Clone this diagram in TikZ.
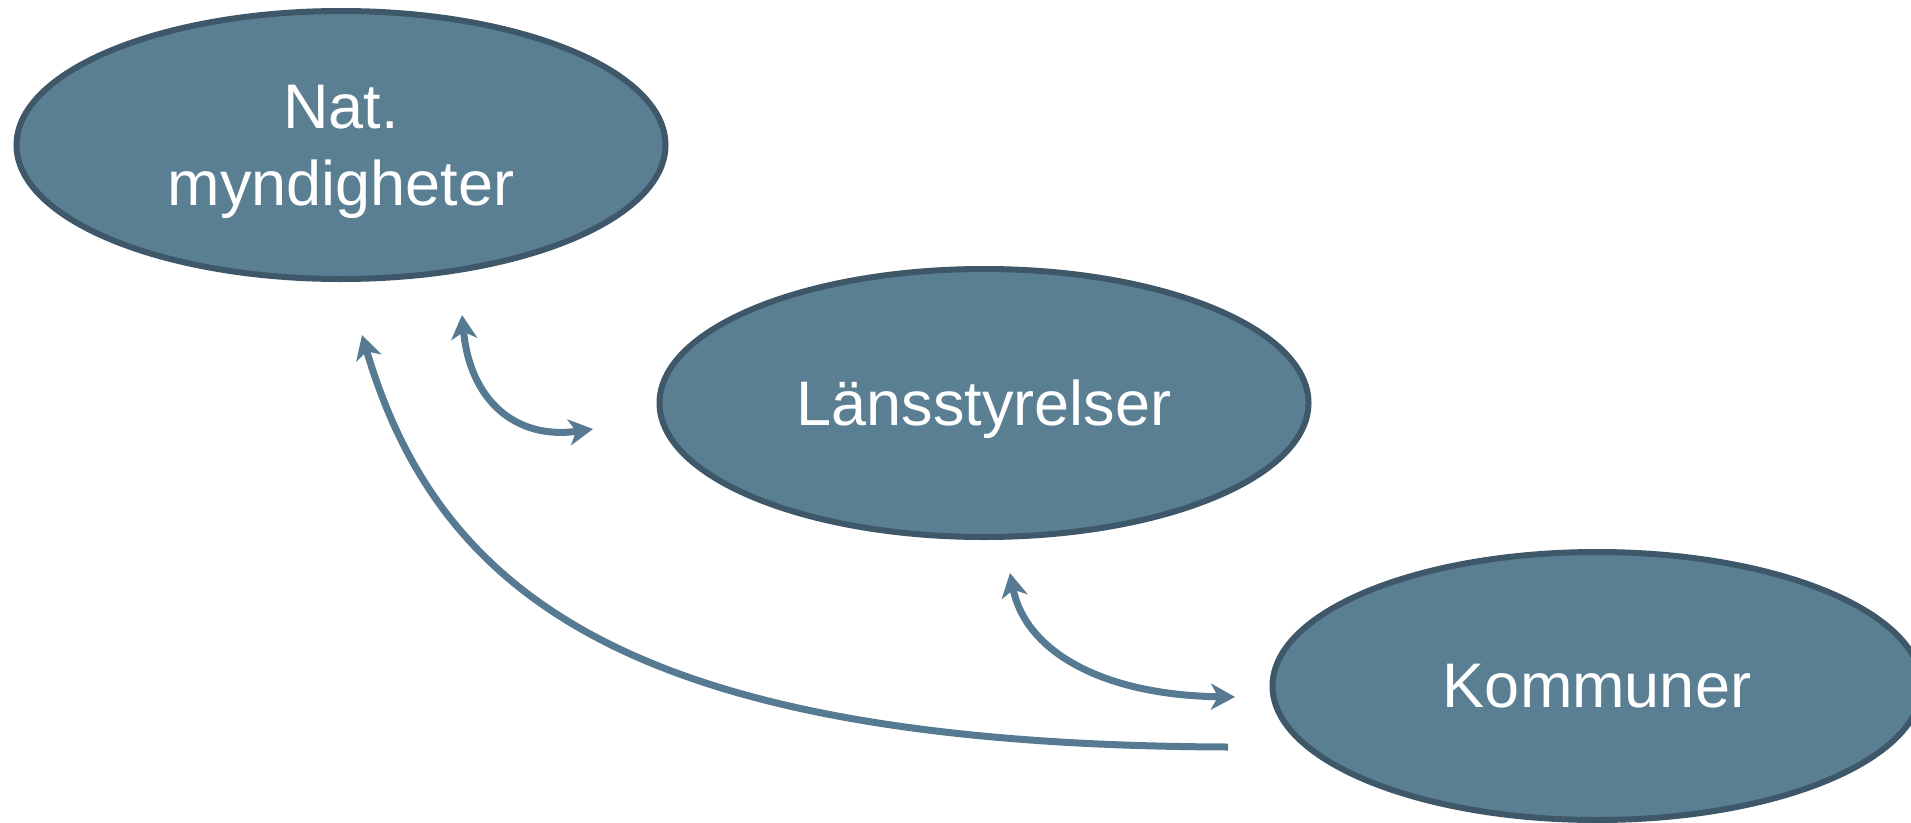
\documentclass[tikz,border=0pt]{standalone}
\usepackage{fontspec}
\setmainfont{Liberation Sans}
\usetikzlibrary{shapes.geometric,arrows.meta}
\definecolor{orgfill}{HTML}{5A7F93}
\definecolor{orgline}{HTML}{3E5869}
\definecolor{linkblue}{HTML}{557A91}
\tikzset{
  org/.style={ellipse,draw=orgline,line width=6pt,fill=orgfill,
    minimum width=649pt,minimum height=268pt,inner sep=0pt,
    text=white,font=\fontsize{63}{77}\selectfont,align=center,text depth=0pt},
  link/.style={draw=linkblue,line width=7pt}
}
\begin{document}
\begin{tikzpicture}[x=1pt,y=-1pt,>={Stealth[length=24pt,width=26pt,inset=7pt]}]
    \useasboundingbox (0,0) rectangle (1911,822);
    \node[org] (nat) at (341,145) {Nat.\\myndigheter};
    \node[org] (lans) at (984,403) {Länsstyrelser};
    \node[org] (kom) at (1597,686) {Kommuner};
    \coordinate (natA) at (462,315);
    \coordinate (lansA) at (593,429);
    \coordinate (lansB) at (1010,573);
    \coordinate (komA) at (1235,697);
    \coordinate (komB) at (1228,747);
    \coordinate (natB) at (362,335);
    \draw[link,<->](natA) .. controls (470,400) and (515,440) .. (lansA);
    \draw[link,<->](lansB) .. controls (1025,650) and (1100,695) .. (komA);
    \draw[link,->](komB) .. controls (640,745) and (440,600) .. (natB);
\end{tikzpicture}
\end{document}
